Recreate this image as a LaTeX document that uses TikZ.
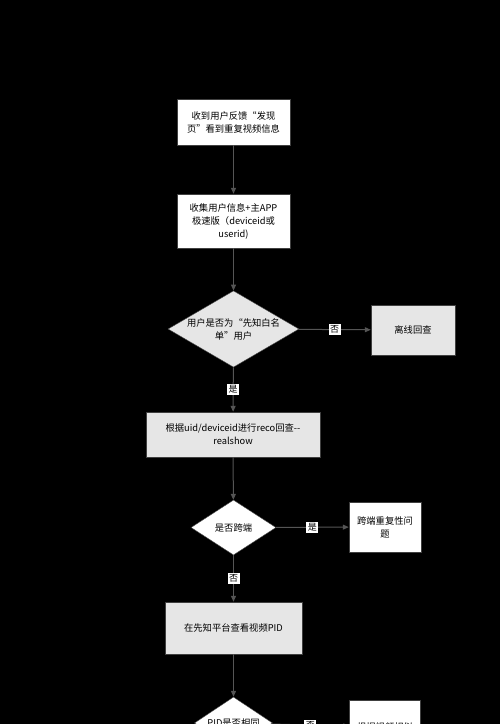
\documentclass[tikz,border=0pt]{standalone}
\usepackage{fontspec}
\setmainfont{Noto Sans CJK SC}
\usetikzlibrary{positioning,shapes.geometric,arrows.meta}
\definecolor{boxgrey}{HTML}{E6E6E6}
\definecolor{linegrey}{HTML}{555555}

\begin{document}
\begin{tikzpicture}[x=1pt,y=-1pt]
\tikzstyle{every node} = [font=\fontsize{9.3}{13}\selectfont, align=center, inner sep=1pt];
\tikzstyle{box} = [draw=black!75, fill=white, minimum width=113pt, minimum height=46pt];
\tikzstyle{greybox} = [box, fill=boxgrey];
\tikzstyle{decide} = [diamond, draw=black!75, fill=white, inner sep=0pt, aspect=1.7];
\tikzstyle{arr} = [draw=linegrey, line width=1pt, -{Triangle[length=6pt,width=5pt]}];
\tikzstyle{lbl} = [fill=white, inner sep=1.5pt, font=\fontsize{9}{10}\selectfont];
\fill[black] (0,0) rectangle (500,724);
\useasboundingbox (0,0) rectangle (500,724);
\clip (0,0) rectangle (500,724);
% main column
\node[box] (feedback) at (233.5,122) {收到用户反馈“发现\\页”看到重复视频信息};
\node[box, minimum height=54pt] (collect) at (233.5,221) {收集用户信息+主APP\\极速版（deviceid或\\userid)};
\node[decide, fill=boxgrey, minimum width=131pt, minimum height=76pt] (white) at (233.5,329) {用户是否为“先知白名\\单”用户};
\node[greybox, minimum width=174pt, minimum height=45pt] (reco) at (233,434.5) {根据uid/deviceid进行reco回查-{}-\\realshow};
\node[decide, minimum width=85pt, minimum height=55pt, aspect=1.55] (cross) at (233.5,527.5) {是否跨端};
\node[greybox, minimum width=137pt, minimum height=52pt] (pid) at (233.5,628) {在先知平台查看视频PID};
\node[decide, minimum width=78pt, minimum height=52pt, aspect=1.5] (same) at (233.5,723) {PID是否相同};
% right column
\node[greybox, minimum width=84pt, minimum height=50pt] (offline) at (413,330) {离线回查};
\node[box, minimum width=72pt, minimum height=50pt] (crossend) at (385,527) {跨端重复性问\\题};
\node[box, minimum width=71pt, minimum height=54pt] (video) at (385,727) {根据视频相似};
% connectors
\draw[arr] (feedback) -- (collect);
\draw[arr] (collect) -- (white);
\draw[arr] (white) -- node[lbl]{否} (offline);
\draw[arr] (white) -- node[lbl]{是} (reco);
\draw[arr] (reco) -- (cross);
\draw[arr] (cross) -- node[lbl]{是} (crossend);
\draw[arr] (cross) -- node[lbl]{否} (pid);
\draw[arr] (pid) -- (same);
\draw[arr] (same) -- node[lbl]{否} (video);
\end{tikzpicture}
\end{document}
